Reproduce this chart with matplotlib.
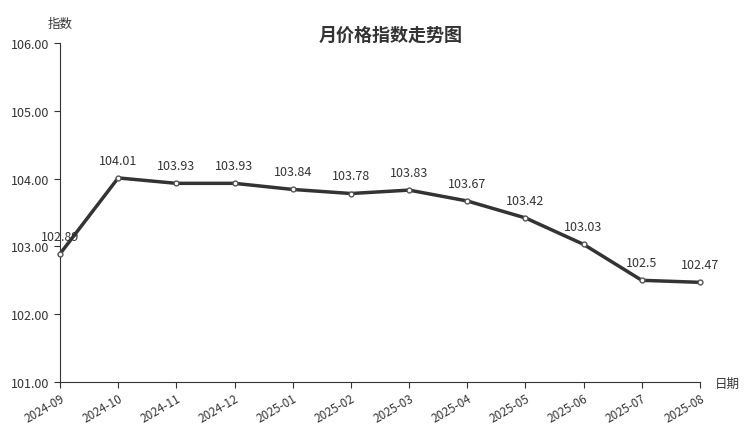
import matplotlib
matplotlib.use('Agg')
import matplotlib.pyplot as plt

plt.rcParams['font.family'] = ['Noto Sans CJK SC', 'DejaVu Sans']

months = ['2024-09', '2024-10', '2024-11', '2024-12', '2025-01', '2025-02',
          '2025-03', '2025-04', '2025-05', '2025-06', '2025-07', '2025-08']
values = [102.89, 104.01, 103.93, 103.93, 103.84, 103.78,
          103.83, 103.67, 103.42, 103.03, 102.5, 102.47]
labels = ['102.89', '104.01', '103.93', '103.93', '103.84', '103.78',
          '103.83', '103.67', '103.42', '103.03', '102.5', '102.47']
yticks = [101, 102, 103, 104, 105, 106]

fig = plt.figure(figsize=(7.52, 4.27), dpi=100)
ax = fig.add_axes([0.0798, 0.103, 0.851, 0.794])

x = list(range(len(months)))
ax.plot(x, values, color='#333333', lw=2.5, marker='o', ms=3.5,
        mfc='white', mec='#555555', mew=1, zorder=3, clip_on=False)
for xi, v, t in zip(x, values, labels):
    ax.annotate(t, (xi, v), xytext=(0, 8), textcoords='offset points',
                ha='center', va='bottom', fontsize=9, color='#333333')

ax.set_xlim(0, len(months) - 1)
ax.set_ylim(101, 106)
ax.set_yticks(yticks)
ax.set_yticklabels(['%.2f' % t for t in yticks])
ax.set_xticks(x)
ax.set_xticklabels(months, rotation=30, ha='right', rotation_mode='anchor')
ax.tick_params(labelsize=9, colors='#333333', length=4)
ax.tick_params(axis='x', labelsize=8.5, pad=3)
for s in ['top', 'right']:
    ax.spines[s].set_visible(False)
for s in ['left', 'bottom']:
    ax.spines[s].set_color('#333333')

fig.text(0.08, 0.935, '指数', fontsize=9, color='#333333', ha='center')
fig.text(0.95, 0.1, '日期', fontsize=9, color='#333333', ha='left', va='center')
fig.text(0.52, 0.905, '月价格指数走势图', fontsize=13, fontweight='bold',
         color='#333333', ha='center')

fig.savefig('out.png', dpi=100)
